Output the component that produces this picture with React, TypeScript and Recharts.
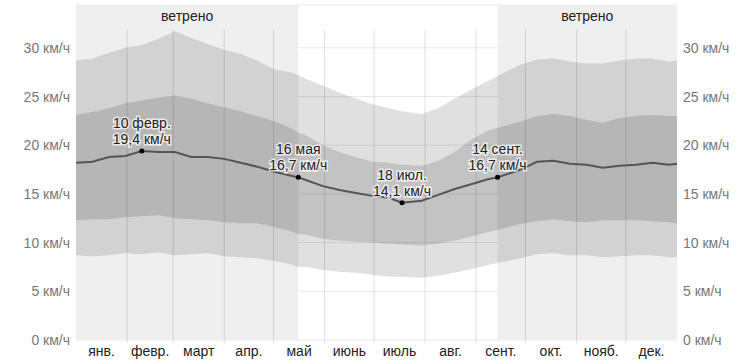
import {
  ComposedChart,
  Area,
  Line,
  XAxis,
  YAxis,
  CartesianGrid,
  ReferenceArea,
  ReferenceLine,
  ReferenceDot,
} from 'recharts';

// day of year (0 = 1 Jan)
const days = [0, 10, 20, 30, 40, 50, 60, 70, 80, 90, 100, 110, 120, 130, 135, 140, 150, 160, 170, 180, 190, 198, 210, 220, 230, 240, 250, 256, 270, 280, 290, 300, 310, 320, 330, 340, 350, 360, 365];
const p90 = [28.7, 28.9, 29.5, 30.0, 30.3, 30.9, 31.7, 31.0, 30.4, 29.8, 29.4, 28.7, 27.8, 27.5, 27.2, 26.8, 26.1, 25.4, 24.8, 24.2, 23.8, 23.5, 23.2, 23.8, 24.8, 25.7, 26.6, 27.1, 28.3, 28.8, 28.9, 28.6, 28.4, 28.4, 28.7, 28.9, 28.9, 28.6, 28.7];
const p75 = [23.1, 23.4, 23.8, 24.3, 24.6, 24.9, 25.1, 24.8, 24.3, 23.9, 23.5, 23.0, 22.5, 21.8, 21.3, 21.0, 20.0, 19.3, 18.8, 18.3, 18.2, 18.0, 17.9, 18.4, 19.3, 20.6, 21.5, 21.8, 22.4, 23.0, 23.2, 23.0, 22.6, 22.3, 22.8, 23.0, 23.1, 23.0, 23.0];
const median = [18.2, 18.3, 18.8, 18.9, 19.4, 19.3, 19.3, 18.8, 18.8, 18.6, 18.2, 17.8, 17.3, 16.9, 16.7, 16.4, 15.8, 15.4, 15.1, 14.8, 14.6, 14.1, 14.3, 14.9, 15.5, 16.0, 16.5, 16.7, 17.5, 18.3, 18.4, 18.1, 18.0, 17.7, 17.9, 18.0, 18.2, 18.0, 18.1];
const p25 = [12.3, 12.4, 12.4, 12.6, 12.7, 12.8, 12.5, 12.4, 12.3, 12.1, 12.0, 12.0, 11.6, 11.2, 10.9, 10.8, 10.4, 10.2, 10.1, 10.0, 9.9, 9.8, 9.7, 9.9, 10.2, 10.6, 11.1, 11.3, 11.9, 12.2, 12.4, 12.2, 12.1, 12.3, 12.3, 12.3, 12.2, 12.1, 12.0];
const p10 = [8.7, 8.6, 8.7, 8.9, 8.8, 9.0, 8.7, 8.8, 8.9, 8.6, 8.5, 8.4, 8.1, 7.8, 7.5, 7.5, 7.2, 7.0, 6.9, 6.7, 6.5, 6.5, 6.4, 6.6, 6.9, 7.3, 7.7, 7.9, 8.4, 8.8, 8.9, 8.7, 8.7, 8.5, 8.6, 8.7, 8.7, 8.5, 8.5];

const monthStarts = [31, 59, 90, 120, 151, 181, 212, 243, 273, 304, 334];
const monthMids = [15.5, 45, 74.5, 105, 135.5, 166, 196.5, 227.5, 258, 288.5, 319, 349.5];
const monthNames = ['янв.', 'февр.', 'март', 'апр.', 'май', 'июнь', 'июль', 'авг.', 'сент.', 'окт.', 'нояб.', 'дек.'];
const yTicks = [0, 5, 10, 15, 20, 25, 30];

const windy = [
  { from: 0, to: 135 },
  { from: 256, to: 365 },
];

const callouts = [
  { day: 40, value: 19.4, date: '10 февр.' },
  { day: 135, value: 16.7, date: '16 мая' },
  { day: 198, value: 14.1, date: '18 июл.' },
  { day: 256, value: 16.7, date: '14 сент.' },
];

const data = days.map((d, i) => ({
  day: d,
  outer: [p10[i], p90[i]],
  inner: [p25[i], p75[i]],
  median: median[i],
}));

const font = '"Liberation Sans", Arial, sans-serif';
const fmt = (v: number) => `${v} км/ч`;

const Callout = (props: any) => {
  const { cx, cy, date, value } = props;
  const halo = { stroke: 'rgba(255,255,255,0.7)', strokeWidth: 3, paintOrder: 'stroke' as const };
  return (
    <g>
      <circle cx={cx} cy={cy} r={2.5} fill="#000" />
      <text x={cx} y={cy - 23} textAnchor="middle" fontSize={14} fill="#222" fontFamily={font} {...halo}>
        {date}
      </text>
      <text x={cx} y={cy - 7} textAnchor="middle" fontSize={14} fill="#222" fontFamily={font} {...halo}>
        {value.toFixed(1).replace('.', ',')} км/ч
      </text>
    </g>
  );
};

export default function App() {
  return (
    <div style={{ position: 'fixed', left: 0, top: 0, background: '#fff' }}>
      <ComposedChart width={753} height={362} data={data} margin={{ top: 5, right: 0, bottom: 0, left: 0 }}>
        {windy.map((w) => (
          <ReferenceArea
            key={w.from}
            yAxisId="left"
            x1={w.from}
            x2={w.to}
            y1={0}
            y2={34.4}
            fill="#efefef"
            fillOpacity={1}
            stroke="none"
            label={{ value: 'ветрено', position: 'insideTop', offset: 6, fill: '#222', fontSize: 14, fontFamily: font }}
          />
        ))}
        <CartesianGrid yAxisId="left" vertical={false} stroke="rgba(0,0,0,0.09)" />
        <XAxis
          dataKey="day"
          type="number"
          domain={[0, 365]}
          ticks={monthMids}
          tickFormatter={(v: number) => monthNames[monthMids.indexOf(v)]}
          axisLine={false}
          tickLine={false}
          tickSize={0}
          tickMargin={6}
          height={22}
          tick={{ fill: '#222', fontSize: 14, fontFamily: font }}
          interval={0}
        />
        <YAxis
          yAxisId="left"
          domain={[0, 34.4]}
          ticks={yTicks}
          tickFormatter={fmt}
          axisLine={false}
          tickLine={false}
          tickSize={0}
          tickMargin={6}
          width={76}
          tick={{ fill: '#777', fontSize: 14, fontFamily: font }}
          allowDataOverflow
        />
        <YAxis
          yAxisId="right"
          orientation="right"
          domain={[0, 34.4]}
          ticks={yTicks}
          tickFormatter={fmt}
          axisLine={false}
          tickLine={false}
          tickSize={0}
          tickMargin={6}
          width={76}
          tick={{ fill: '#777', fontSize: 14, fontFamily: font, textAnchor: 'start' }}
          allowDataOverflow
        />
        {monthStarts.map((m) => (
          <ReferenceLine
            key={m}
            yAxisId="left"
            segment={[{ x: m, y: -0.3 }, { x: m, y: 31.9 }]}
            stroke="rgba(0,0,0,0.12)"
            ifOverflow="visible"
          />
        ))}
        <Area yAxisId="left" dataKey="outer" type="linear" stroke="none" fill="#000" fillOpacity={0.12} isAnimationActive={false} />
        <Area yAxisId="left" dataKey="inner" type="linear" stroke="none" fill="#000" fillOpacity={0.13} isAnimationActive={false} />
        <Line yAxisId="left" dataKey="median" type="linear" stroke="#555" strokeWidth={2} dot={false} isAnimationActive={false} />
        {callouts.map((c) => (
          <ReferenceDot
            key={c.day}
            yAxisId="left"
            x={c.day}
            y={c.value}
            shape={(p: any) => <Callout {...p} date={c.date} value={c.value} />}
          />
        ))}
      </ComposedChart>
    </div>
  );
}
